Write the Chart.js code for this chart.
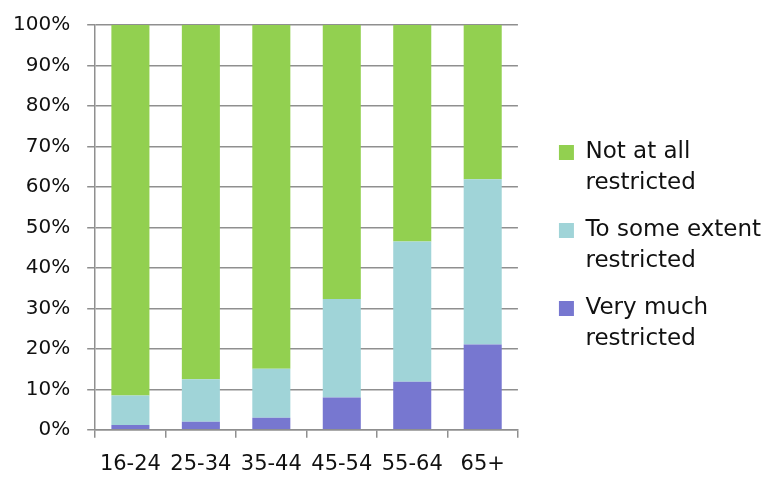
<!DOCTYPE html>
<html lang="en">
<head>
  <meta charset="UTF-8">
  <title>Restriction by age group</title>
  <script src="https://cdn.jsdelivr.net/npm/chart.js"></script>
  <style>
    body { margin: 0; background: #fff; }
    #wrap { width: 769px; height: 478px; }
  </style>
</head>
<body>
<div id="wrap"><canvas id="chart"></canvas></div>
<script>
// age groups on the x axis
const ageGroups = ['16-24', '25-34', '35-44', '45-54', '55-64', '65+'];

// share of each answer (%)
const veryMuch = [1.2, 2.0, 3.0, 8.0, 11.9, 21.1];
const someExtent = [7.3, 10.5, 12.1, 24.3, 34.6, 40.8];
const notAtAll = [91.5, 87.5, 84.9, 67.7, 53.5, 38.1];

// y axis ticks
const yTicks = [0, 10, 20, 30, 40, 50, 60, 70, 80, 90, 100];

const gridColor = '#8f8f8f';

const ctx = document.getElementById('chart').getContext('2d');
new Chart(ctx, {
  type: 'bar',
  data: {
    labels: ageGroups,
    datasets: [
      { label: ['Very much', 'restricted'], data: veryMuch, backgroundColor: '#7777d0' },
      { label: ['To some extent', 'restricted'], data: someExtent, backgroundColor: '#a0d4d8' },
      { label: ['Not at all', 'restricted'], data: notAtAll, backgroundColor: '#92d050' }
    ]
  },
  options: {
    responsive: true,
    maintainAspectRatio: false,
    animation: false,
    layout: { padding: { left: -4, top: 2, right: -2, bottom: -13 } },
    datasets: { bar: { barPercentage: 0.54, categoryPercentage: 1 } },
    plugins: {
      tooltip: { enabled: false },
      legend: {
        position: 'right',
        reverse: true,
        maxWidth: 300,
        // empty title, only used to push the items down a little
        title: { display: true, text: '', font: { size: 7, lineHeight: 1 }, padding: 0 },
        labels: {
          boxWidth: 15,
          boxHeight: 15,
          padding: 16,
          color: '#111',
          font: { family: 'DejaVu Sans', size: 23, lineHeight: 31 / 23 }
        }
      }
    },
    scales: {
      x: {
        stacked: true,
        grid: { display: true, drawOnChartArea: false, color: gridColor, lineWidth: 1.5, tickLength: 8, offset: true },
        border: { color: gridColor, width: 1.5 },
        ticks: { color: '#111', padding: 14, font: { family: 'DejaVu Sans', size: 21 } }
      },
      y: {
        stacked: true,
        min: 0,
        max: 100,
        afterBuildTicks: s => { s.ticks = yTicks.map(v => ({ value: v })); },
        afterFit: s => { s.paddingTop = 25; },
        grid: { color: gridColor, lineWidth: 1.5, tickLength: 8 },
        border: { color: gridColor, width: 1.5 },
        ticks: { color: '#111', padding: 17, font: { family: 'DejaVu Sans', size: 20 }, callback: v => v + '%' }
      },
      // empty spacer between the plot and the legend
      gap: {
        position: 'right',
        display: true,
        grid: { display: false },
        border: { display: false },
        ticks: { display: false },
        afterFit: s => { s.width = 25; }
      }
    }
  }
});
</script>
</body>
</html>
